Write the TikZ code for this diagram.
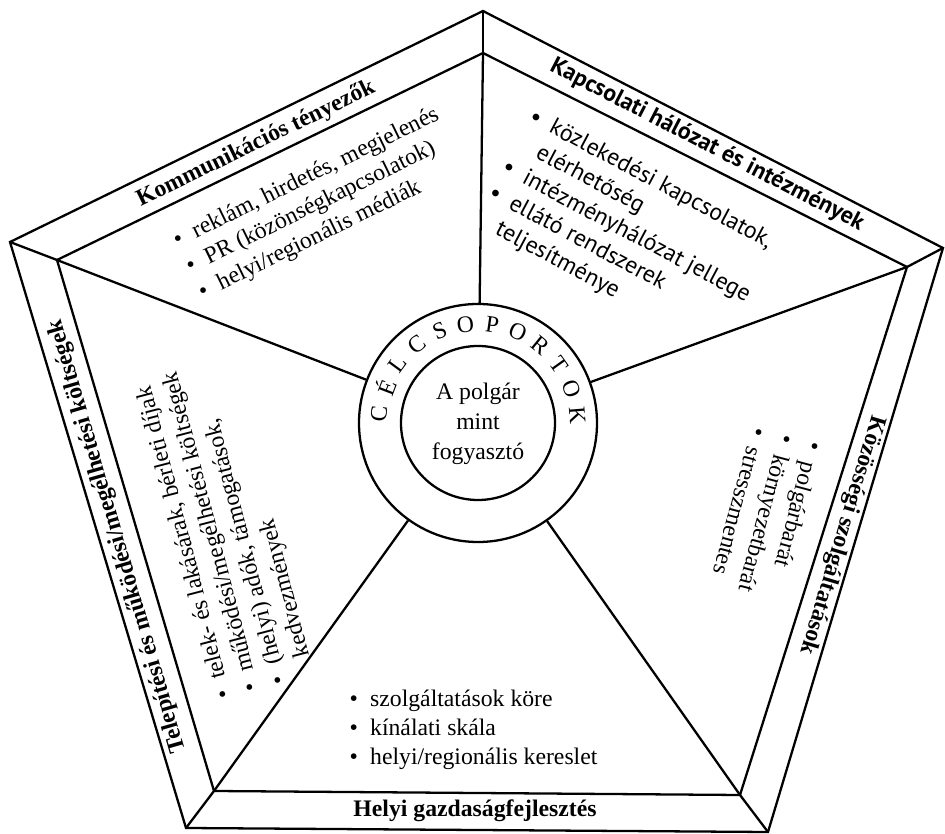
\documentclass[tikz,border=0pt]{standalone}
\usepackage{fontspec}
\setmainfont{Liberation Serif}
\newfontfamily\humsans{PT Sans}
\newcommand\sorkoz{\rule[-4.9pt]{0pt}{16.4pt}}

\begin{document}
\begin{tikzpicture}[
    line width=1.3pt,
    txt/.style={font=\fontsize{13.5}{16.3}\selectfont, inner sep=0pt},
    band/.style={font=\fontsize{13.5}{16}\selectfont\bfseries, inner sep=0pt},
    letter/.style={font=\fontsize{13.5}{16}\selectfont, inner sep=0pt},
]
\useasboundingbox (0,0) rectangle (18.9,16.68);

% Outer pentagon
\coordinate (oT) at (9.66,16.46);
\coordinate (oR) at (18.86,11.72);
\coordinate (oBR) at (15.36,0.04);
\coordinate (oBL) at (3.72,0.12);
\coordinate (oL) at (0.20,11.84);

% Inner pentagon
\coordinate (iT) at (9.66,15.62);
\coordinate (iR) at (18.14,11.34);
\coordinate (iBR) at (14.80,0.78);
\coordinate (iBL) at (4.28,0.86);
\coordinate (iL) at (1.14,11.48);

\draw (oT) -- (oR) -- (oBR) -- (oBL) -- (oL) -- cycle;
\draw (iT) -- (iR) -- (iBR) -- (iBL) -- (iL) -- cycle;
\foreach \c in {T,R,BR,BL,L}
    \draw (o\c) -- (i\c);

% Target groups in the middle
\node[circle, draw, minimum size=4.76cm, inner sep=0pt] (ring) at (9.56,8.22) {};
\node[circle, draw, minimum size=3.08cm, txt] (core) at (ring.center) {%
    \begin{tabular}{@{}c@{}}
    A polgár\rule[-5pt]{0pt}{17pt}\\
    mint\rule[-5pt]{0pt}{17pt}\\
    fogyasztó\rule[-5pt]{0pt}{17pt}
    \end{tabular}};
\foreach \c in {T,R,BR,BL,L}
    \draw (i\c) -- (ring);

\foreach \ch [count=\i] in {C,É,L,C,S,O,P,O,R,T,O,K} {
    \pgfmathsetmacro\ang{174.5-15.45*(\i-1)}
    \pgfmathsetmacro\rot{\ang-90}
    \node[letter, rotate=\rot] (cs\i) at ([shift={(\ang:1.99)}]ring.center) {\ch};
}

% Band titles
\node[band, rotate=26] (komm) at (5.12,13.80) {Kommunikációs tényezők};
\node[band, font=\fontsize{13.5}{16}\selectfont\humsans\bfseries, rotate=-27.3] (kapcs) at (14.14,13.78) {Kapcsolati hálózat és intézmények};
\node[band, rotate=-106.7] (kozos) at (16.84,5.98) {Közösségi szolgáltatások};
\node[band] (helyi) at (9.50,0.46) {Helyi gazdaságfejlesztés};
\node[band, rotate=106.1] (telep) at (2.35,5.95) {Telepítési és működési/megélhetési költségek};

% Sector contents
\node[txt, rotate=26] (kommlist) at (6.38,12.60) {%
    \begin{tabular}{@{}l@{\hspace{7pt}}l@{}}
    \textbullet\sorkoz & reklám, hirdetés, megjelenés\\
    \textbullet\sorkoz & PR (közönségkapcsolatok)\\
    \textbullet\sorkoz & helyi/regionális médiák
    \end{tabular}};

\node[txt, font=\fontsize{13.5}{16.2}\selectfont\humsans, rotate=-28] (kapcslist) at (12.52,12.04) {%
    \begin{tabular}{@{}l@{\hspace{7pt}}l@{}}
    \textbullet\sorkoz & közlekedési kapcsolatok,\\
    \sorkoz            & elérhetőség\\
    \textbullet\sorkoz & intézményhálózat jellege\\
    \textbullet\sorkoz & ellátó rendszerek\\
    \sorkoz            & teljesítménye
    \end{tabular}};

\node[txt, rotate=-105] (kozoslist) at (15.30,6.42) {%
    \begin{tabular}{@{}l@{\hspace{7pt}}l@{}}
    \textbullet\sorkoz & polgárbarát\\
    \textbullet\sorkoz & környezetbarát\\
    \textbullet\sorkoz & stresszmentes
    \end{tabular}};

\node[txt, rotate=104.5] (teleplist) at (4.52,6.12) {%
    \begin{tabular}{@{}l@{\hspace{7pt}}l@{}}
    \textbullet\sorkoz & telek- és lakásárak, bérleti díjak\\
    \textbullet\sorkoz & működési/megélhetési költségek\\
    \textbullet\sorkoz & (helyi) adók, támogatások,\\
    \sorkoz            & kedvezmények
    \end{tabular}};

\node[txt] (helyilist) at (9.47,2.08) {%
    \begin{tabular}{@{}l@{\hspace{7pt}}l@{}}
    \textbullet\sorkoz & szolgáltatások köre\\
    \textbullet\sorkoz & kínálati skála\\
    \textbullet\sorkoz & helyi/regionális kereslet
    \end{tabular}};

\end{tikzpicture}
\end{document}
